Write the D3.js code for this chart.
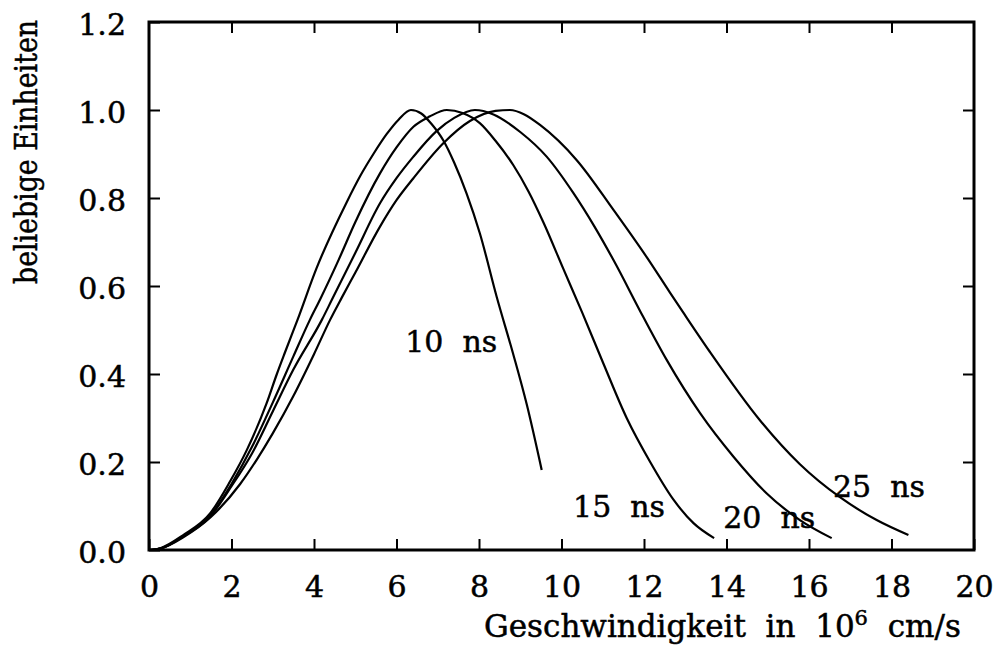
<!DOCTYPE html>
<html>
<head>
<meta charset="utf-8">
<script src="https://cdn.jsdelivr.net/npm/d3@7"></script>
<style>
  html, body { margin: 0; padding: 0; background: #fff; }
  svg text { font-family: "DejaVu Serif", serif; fill: #000; stroke: #000; stroke-width: 0.5px; white-space: pre; }
  svg text.ylabel { font-family: "DejaVu Serif Condensed", "DejaVu Serif", serif; }
</style>
</head>
<body>
<svg id="chart" width="999" height="650"></svg>
<script>
// Normalised velocity distributions after different delay times
const speed10  = [0, 0.27, 0.83, 1.48, 1.96, 2.37, 2.85, 3.1, 3.3, 3.6, 4.06, 4.79, 5.12, 5.44, 5.76, 6.05, 6.35, 6.6, 6.85, 7.14, 7.4, 7.7, 8.02, 8.43, 8.83, 9.16, 9.52];
const signal10 = [0, 0.004, 0.034, 0.083, 0.155, 0.227, 0.333, 0.4, 0.45, 0.523, 0.64, 0.79, 0.85, 0.9, 0.945, 0.978, 1.0, 0.992, 0.968, 0.93, 0.88, 0.81, 0.72, 0.575, 0.445, 0.33, 0.182];

const speed15  = [0, 0.3, 0.85, 1.5, 2.0, 2.5, 3.0, 3.5, 3.9, 4.15, 4.6, 5.0, 5.6, 6.0, 6.41, 6.8, 7.22, 7.6, 8.02, 8.4, 8.83, 9.2, 9.56, 10.04, 10.5, 11.01, 11.58, 12.15, 12.71, 13.2, 13.7];
const signal15 = [0, 0.004, 0.033, 0.08, 0.15, 0.235, 0.335, 0.44, 0.523, 0.57, 0.66, 0.745, 0.856, 0.915, 0.962, 0.985, 1.0, 0.993, 0.97, 0.93, 0.875, 0.815, 0.745, 0.64, 0.54, 0.425, 0.3, 0.2, 0.115, 0.061, 0.027];

const speed20  = [0, 0.3, 0.85, 1.5, 2.0, 2.5, 3.0, 3.5, 4.19, 4.43, 5.0, 5.6, 6.0, 6.41, 6.97, 7.4, 7.9, 8.35, 9.0, 9.64, 10.29, 10.8, 11.26, 11.98, 12.55, 13.36, 14.17, 14.97, 15.78, 16.55];
const signal20 = [0, 0.004, 0.032, 0.078, 0.145, 0.22, 0.315, 0.41, 0.523, 0.568, 0.675, 0.788, 0.845, 0.894, 0.952, 0.982, 1.0, 0.99, 0.95, 0.894, 0.811, 0.735, 0.659, 0.53, 0.432, 0.311, 0.212, 0.129, 0.068, 0.027];

const speed25  = [0, 0.3, 0.85, 1.5, 2.21, 2.61, 3.0, 3.5, 4.0, 4.39, 4.67, 5.0, 5.6, 6.0, 6.41, 7.14, 7.78, 8.4, 8.75, 9.1, 9.48, 10.37, 11.26, 12.07, 12.63, 12.95, 13.6, 14.81, 15.78, 16.75, 17.64, 18.41];
const signal25 = [0, 0.004, 0.03, 0.075, 0.15, 0.205, 0.265, 0.35, 0.445, 0.523, 0.573, 0.63, 0.735, 0.795, 0.845, 0.925, 0.975, 0.998, 1.0, 0.99, 0.966, 0.886, 0.773, 0.665, 0.585, 0.54, 0.45, 0.295, 0.195, 0.12, 0.068, 0.034];

const seriesNames = ["10  ns", "15  ns", "20  ns", "25  ns"];
const xTicks = [0, 2, 4, 6, 8, 10, 12, 14, 16, 18, 20];
const yTicks = [0.0, 0.2, 0.4, 0.6, 0.8, 1.0, 1.2];

// Where each delay label sits, in data units (left edge, baseline)
const labelAnchors = [[6.21, 0.45], [10.28, 0.075], [13.92, 0.05], [16.58, 0.12]];

const svg = d3.select("#chart");
const plotLeft = 149, plotRight = 974, plotTop = 22, plotBottom = 550;

const x = d3.scaleLinear().domain([0, 20]).range([plotLeft, plotRight]);
const y = d3.scaleLinear().domain([0, 1.2]).range([plotBottom, plotTop]);

const series = [
  d3.zip(speed10, signal10),
  d3.zip(speed15, signal15),
  d3.zip(speed20, signal20),
  d3.zip(speed25, signal25)
];

const line = d3.line()
  .x(d => x(d[0]))
  .y(d => y(d[1]))
  .curve(d3.curveMonotoneX);

svg.append("g")
  .selectAll("path")
  .data(series)
  .join("path")
  .attr("d", line)
  .attr("fill", "none")
  .attr("stroke", "#000")
  .attr("stroke-width", 2.2)
  .attr("stroke-linejoin", "round");

// Axes with inward ticks on all four sides
const tickLen = 11;
const fontSize = 30;

const gBottom = svg.append("g").attr("transform", `translate(0,${plotBottom})`)
  .call(d3.axisBottom(x).tickValues(xTicks).tickSizeInner(-tickLen).tickSizeOuter(0).tickPadding(26).tickFormat(d3.format("d")));
const gTop = svg.append("g").attr("transform", `translate(0,${plotTop})`)
  .call(d3.axisTop(x).tickValues(xTicks.slice(1, -1)).tickSizeInner(-tickLen).tickSizeOuter(0).tickFormat(""));
const gLeft = svg.append("g").attr("transform", `translate(${plotLeft},0)`)
  .call(d3.axisLeft(y).tickValues(yTicks).tickSizeInner(-tickLen).tickSizeOuter(0).tickPadding(23).tickFormat(d3.format(".1f")));
const gRight = svg.append("g").attr("transform", `translate(${plotRight},0)`)
  .call(d3.axisRight(y).tickValues(yTicks.slice(1, -1)).tickSizeInner(-tickLen).tickSizeOuter(0).tickFormat(""));

[gBottom, gTop, gLeft, gRight].forEach(g => {
  g.attr("font-family", null).attr("font-size", null);
  g.select(".domain").remove();
  g.selectAll(".tick line").attr("stroke", "#000").attr("stroke-width", 2);
  g.selectAll("text")
    .attr("font-size", fontSize)
    .attr("fill", "#000");
});
gBottom.selectAll("text").attr("dy", "0.7em");
gLeft.selectAll("text").attr("dy", "0.4em");

// Frame
svg.append("rect")
  .attr("x", plotLeft).attr("y", plotTop)
  .attr("width", plotRight - plotLeft).attr("height", plotBottom - plotTop)
  .attr("fill", "none").attr("stroke", "#000").attr("stroke-width", 3);

// Delay labels
svg.append("g")
  .selectAll("text")
  .data(seriesNames)
  .join("text")
  .attr("x", (d, i) => x(labelAnchors[i][0]))
  .attr("y", (d, i) => y(labelAnchors[i][1]))
  .attr("font-size", fontSize)
  .text(d => d);

// X axis title with superscript exponent
const xTitle = svg.append("text")
  .attr("x", 484).attr("y", 637)
  .attr("font-size", 31);
xTitle.append("tspan").text("Geschwindigkeit  in  10");
xTitle.append("tspan").attr("font-size", 21).attr("dy", -12).text("6");
xTitle.append("tspan").attr("dy", 12).text("  cm/s");

// Y axis title
svg.append("text")
  .attr("class", "ylabel")
  .attr("transform", "translate(37,152) rotate(-90)")
  .attr("text-anchor", "middle")
  .attr("font-size", 32)
  .attr("textLength", 264)
  .attr("lengthAdjust", "spacingAndGlyphs")
  .text("beliebige Einheiten");
</script>
</body>
</html>
